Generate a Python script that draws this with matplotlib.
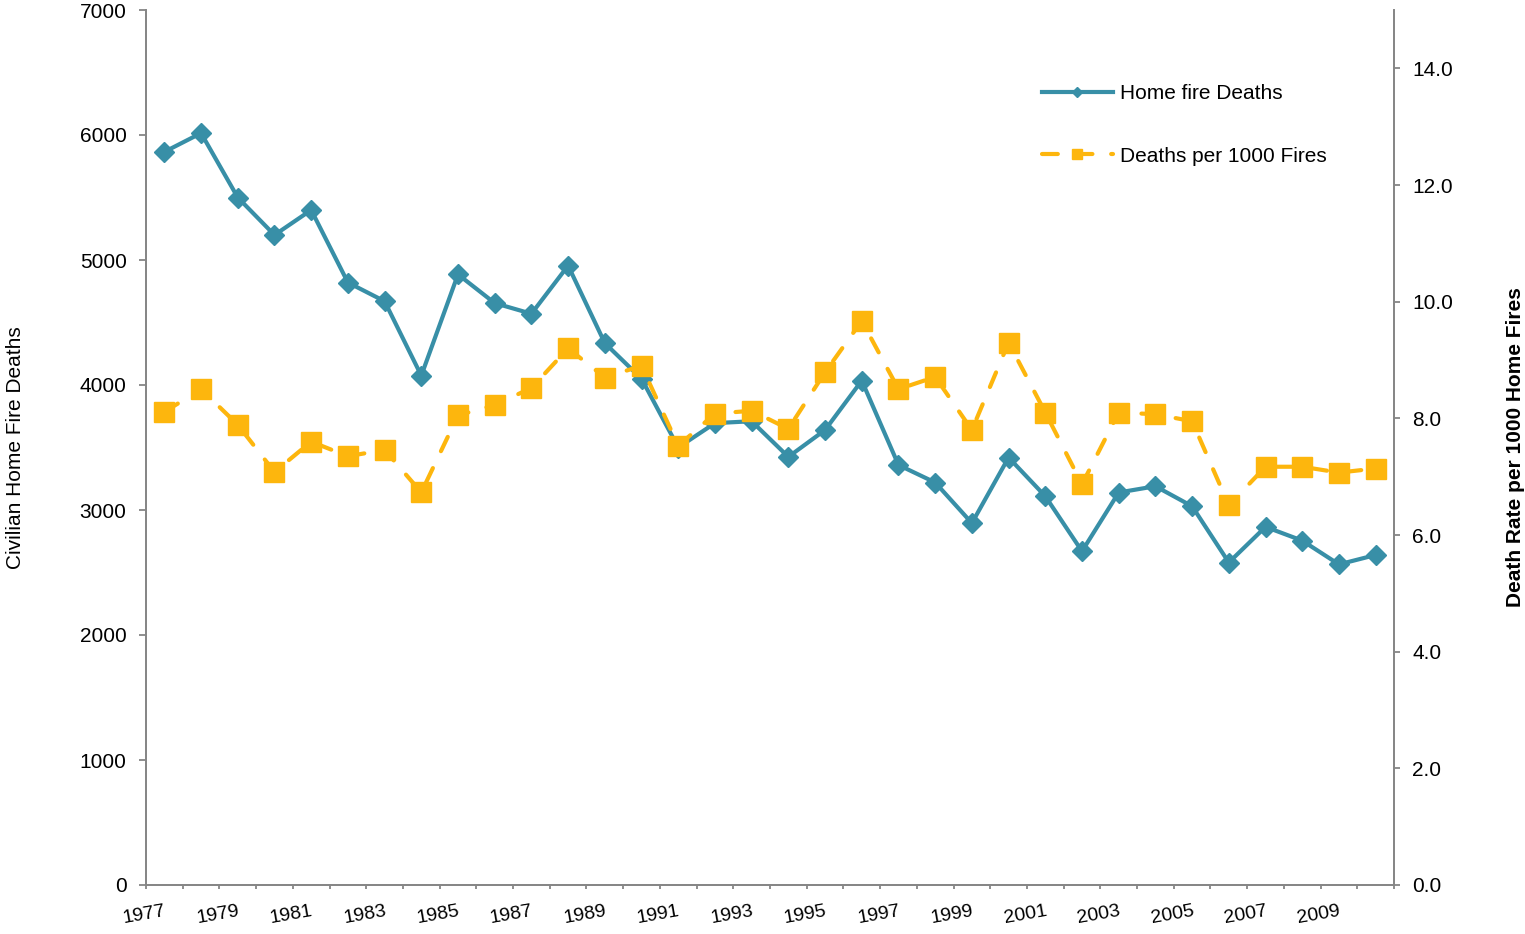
import matplotlib
matplotlib.use("Agg")
import matplotlib.pyplot as plt
from matplotlib.ticker import FixedLocator, FormatStrFormatter

plt.rcParams['font.family'] = ['Liberation Sans', 'DejaVu Sans']

years = list(range(1977, 2011))
home_fire_deaths = [5865, 6015, 5500, 5200, 5400, 4820, 4670, 4075, 4885, 4655,
                    4570, 4955, 4335, 4050, 3500, 3695, 3710, 3425, 3640, 4035,
                    3360, 3220, 2895, 3420, 3110, 2670, 3140, 3190, 3030, 2580,
                    2865, 2755, 2565, 2640]
deaths_per_1000 = [8.11, 8.50, 7.89, 7.08, 7.60, 7.35, 7.46, 6.73, 8.05, 8.23,
                   8.52, 9.20, 8.70, 8.90, 7.53, 8.08, 8.13, 7.82, 8.79, 9.67,
                   8.50, 8.71, 7.80, 9.30, 8.10, 6.87, 8.10, 8.07, 7.95, 6.51,
                   7.17, 7.17, 7.07, 7.14]

blue = '#388FA7'
orange = '#FDB60D'
grey = '#868686'

fig = plt.figure(figsize=(15.25, 9.34), dpi=100)
ax = fig.add_axes([146 / 1525, 1 - 885 / 934, (1394 - 146) / 1525, 875 / 934])
ax2 = ax.twinx()

x = list(range(len(years)))
l1, = ax.plot(x, home_fire_deaths, color=blue, lw=3, marker='D', ms=10,
              solid_joinstyle='miter', label='Home fire Deaths')
l2, = ax2.plot(x, deaths_per_1000, color=orange, lw=3, marker='s', ms=14,
               linestyle=(0, (3.8, 4.5)), dash_capstyle='round',
               label='Deaths per 1000 Fires')

ax.set_xlim(-0.5, len(years) - 0.5)
ax.set_ylim(0, 7000)
ax2.set_ylim(0, 15)
ax.set_yticks(range(0, 7001, 1000))
ax2.set_yticks([0, 2, 4, 6, 8, 10, 12, 14])
ax2.yaxis.set_major_formatter(FormatStrFormatter('%.1f'))

# year labels every other category, tick marks between categories
ax.set_xticks(x[::2])
ax.set_xticklabels([str(y) for y in years[::2]], rotation=10, ha='right',
                   rotation_mode='anchor', fontsize=14)
ax.xaxis.set_minor_locator(FixedLocator([i - 0.5 for i in range(len(years) + 1)]))
ax.tick_params(axis='x', which='major', length=0, pad=13)
ax.tick_params(axis='x', which='minor', length=3, color=grey, width=1.3)
ax.tick_params(axis='y', length=5, color=grey, width=1.3, labelsize=15, pad=9)
ax2.tick_params(axis='y', length=4.3, color=grey, width=1.3, labelsize=15, pad=9)

for a in (ax, ax2):
    a.spines['top'].set_visible(False)
    for s in ('left', 'right', 'bottom'):
        a.spines[s].set_color(grey)
        a.spines[s].set_linewidth(1.3)

ax.set_ylabel('Civilian Home Fire Deaths', fontsize=15)
ax.yaxis.set_label_coords(-0.097, 0.5)
ax2.set_ylabel('Death Rate per 1000 Home Fires', fontsize=15, fontweight='bold')
ax2.yaxis.set_label_coords(1.090, 0.5)

leg = ax2.legend([l1, l2], [l1.get_label(), l2.get_label()], loc='upper left',
                 bbox_to_anchor=(1042 / 1525, 1 - 84 / 934),
                 bbox_transform=fig.transFigure, frameon=False, fontsize=15,
                 handlelength=3.4, handletextpad=0.35, labelspacing=2.1,
                 borderpad=0, borderaxespad=0, markerscale=0.5)

fig.savefig('out.png', dpi=100)
